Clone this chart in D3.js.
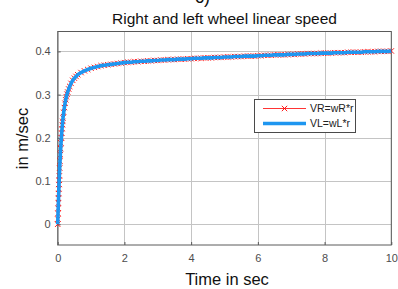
<!DOCTYPE html>
<html>
<head>
<meta charset="utf-8">
<script src="https://cdn.jsdelivr.net/npm/d3@7"></script>
<style>
  html, body { margin: 0; padding: 0; background: #fff; }
  svg { display: block; font-family: Arial, "Liberation Sans", Helvetica, sans-serif; }
</style>
</head>
<body>
<div id="chart"></div>
<script>
// ---- data ----
const time = [
  0, 0.005, 0.01, 0.015, 0.02, 0.025, 0.03, 0.035, 0.04, 0.045,
  0.05, 0.06, 0.07, 0.08, 0.09, 0.10, 0.11, 0.12, 0.13, 0.14,
  0.15, 0.16, 0.18, 0.20, 0.22, 0.24, 0.26, 0.28, 0.30, 0.33,
  0.36, 0.40, 0.45, 0.50, 0.55, 0.60, 0.70, 0.80, 0.90, 1.0,
  1.1, 1.2, 1.3, 1.4, 1.5, 1.6, 1.7, 1.8, 1.9, 2.0,
  2.1, 2.2, 2.3, 2.4, 2.5, 2.6, 2.7, 2.8, 2.9, 3.0,
  3.1, 3.2, 3.3, 3.4, 3.5, 3.6, 3.7, 3.8, 3.9, 4.0,
  4.1, 4.2, 4.3, 4.4, 4.5, 4.6, 4.7, 4.8, 4.9, 5.0,
  5.1, 5.2, 5.3, 5.4, 5.5, 5.6, 5.7, 5.8, 5.9, 6.0,
  6.1, 6.2, 6.3, 6.4, 6.5, 6.6, 6.7, 6.8, 6.9, 7.0,
  7.1, 7.2, 7.3, 7.4, 7.5, 7.6, 7.7, 7.8, 7.9, 8.0,
  8.1, 8.2, 8.3, 8.4, 8.5, 8.6, 8.7, 8.8, 8.9, 9.0,
  9.1, 9.2, 9.3, 9.4, 9.5, 9.6, 9.7, 9.8, 9.9, 10.0
];
const speedR = [
  0, 0.012, 0.025, 0.037, 0.049, 0.060, 0.071, 0.082, 0.092, 0.102,
  0.112, 0.130, 0.146, 0.161, 0.175, 0.188, 0.200, 0.211, 0.221, 0.230,
  0.238, 0.246, 0.259, 0.270, 0.280, 0.288, 0.295, 0.301, 0.306, 0.313,
  0.319, 0.326, 0.333, 0.338, 0.342, 0.346, 0.351, 0.355, 0.358, 0.361,
  0.363, 0.365, 0.367, 0.368, 0.369, 0.370, 0.371, 0.372, 0.373, 0.374,
  0.375, 0.375, 0.376, 0.376, 0.377, 0.377, 0.378, 0.378, 0.379, 0.379,
  0.380, 0.380, 0.381, 0.381, 0.381, 0.382, 0.382, 0.382, 0.383, 0.383,
  0.384, 0.384, 0.384, 0.385, 0.385, 0.385, 0.386, 0.386, 0.386, 0.387,
  0.387, 0.387, 0.388, 0.388, 0.388, 0.389, 0.389, 0.389, 0.389, 0.390,
  0.390, 0.391, 0.391, 0.391, 0.392, 0.392, 0.392, 0.392, 0.393, 0.393,
  0.393, 0.394, 0.394, 0.394, 0.395, 0.395, 0.395, 0.395, 0.396, 0.396,
  0.396, 0.396, 0.397, 0.397, 0.397, 0.397, 0.398, 0.398, 0.398, 0.398,
  0.398, 0.399, 0.399, 0.399, 0.399, 0.400, 0.400, 0.400, 0.400, 0.401
];
const speedL = [...speedR]; // VL coincides with VR in the picture
const xTicks = [0, 2, 4, 6, 8, 10];
const yTicks = [0, 0.1, 0.2, 0.3, 0.4];
const seriesNames = ["VR=wR*r", "VL=wL*r"];
const titleText = "Right and left wheel linear speed";
const xLabel = "Time in sec";
const yLabel = "in m/sec";
const panelLabel = "c)";

// ---- layout ----
const W = 398, H = 289;
const plot = { left: 57.7, right: 391.3, top: 31.5, bottom: 245 };
const red = "#ff0000", blue = "#1e96f0";

const svg = d3.select("#chart").append("svg")
  .attr("width", W).attr("height", H);
svg.append("rect").attr("width", W).attr("height", H).attr("fill", "#fff");

const x = d3.scaleLinear().domain([0, 10]).range([plot.left, plot.right]);
const y = d3.scaleLinear().domain([-0.048, 0.446]).range([plot.bottom, plot.top]);

// grid
const grid = svg.append("g");
grid.selectAll(".gx").data(xTicks).join("line")
  .attr("x1", d => Math.round(x(d)) + 0.5).attr("x2", d => Math.round(x(d)) + 0.5)
  .attr("y1", plot.top).attr("y2", plot.bottom)
  .attr("stroke", "#c4c4c4").attr("stroke-width", 1);
grid.selectAll(".gy").data(yTicks).join("line")
  .attr("y1", d => Math.round(y(d)) + 0.5).attr("y2", d => Math.round(y(d)) + 0.5)
  .attr("x1", plot.left).attr("x2", plot.right)
  .attr("stroke", "#c4c4c4").attr("stroke-width", 1);

// axes (ticks inward)
const axisColor = "#5a5a5a";
const xAxis = svg.append("g").attr("transform", `translate(0,${plot.bottom})`)
  .call(d3.axisBottom(x).tickValues(xTicks).tickSize(-3).tickPadding(9).tickFormat(d3.format("d")));
const yAxis = svg.append("g").attr("transform", `translate(${plot.left},0)`)
  .call(d3.axisLeft(y).tickValues(yTicks).tickSize(-3).tickPadding(7).tickFormat(d => d === 0 ? "0" : d3.format(".1f")(d)));
[xAxis, yAxis].forEach(g => {
  g.select(".domain").remove();
  g.selectAll("line").attr("stroke", axisColor);
  g.selectAll("text").attr("fill", "#4d4d4d").attr("font-size", 11)
    .attr("font-family", "Arial, 'Liberation Sans', sans-serif");
});

// box
svg.append("rect")
  .attr("x", plot.left).attr("y", plot.top)
  .attr("width", plot.right - plot.left).attr("height", plot.bottom - plot.top)
  .attr("fill", "none").attr("stroke", axisColor).attr("stroke-width", 1);

// series
const dataR = time.map((t, i) => [t, speedR[i]]);
const dataL = time.map((t, i) => [t, speedL[i]]);
const line = d3.line().x(d => x(d[0])).y(d => y(d[1]));

svg.append("path").datum(dataR).attr("d", line)
  .attr("fill", "none").attr("stroke", red).attr("stroke-width", 0.8);
const ms = 2.7;
const markerPath = `M${-ms},${-ms}L${ms},${ms}M${-ms},${ms}L${ms},${-ms}`;
svg.append("g").selectAll("path").data(dataR).join("path")
  .attr("transform", d => `translate(${x(d[0])},${y(d[1])})`)
  .attr("d", markerPath)
  .attr("stroke", red).attr("stroke-width", 0.9).attr("fill", "none");

svg.append("path").datum(dataL).attr("d", line)
  .attr("fill", "none").attr("stroke", blue).attr("stroke-width", 3.6)
  .attr("stroke-linejoin", "round");

// legend
const lg = svg.append("g");
lg.append("rect").attr("x", 254.5).attr("y", 99.5).attr("width", 101).attr("height", 33)
  .attr("fill", "#fff").attr("stroke", "#4a4a4a").attr("stroke-width", 1);
lg.append("line").attr("x1", 263).attr("x2", 306).attr("y1", 108.5).attr("y2", 108.5)
  .attr("stroke", red).attr("stroke-width", 0.8);
lg.append("path").attr("transform", "translate(284.5,108.5)").attr("d", markerPath)
  .attr("stroke", red).attr("stroke-width", 0.9);
lg.append("line").attr("x1", 263).attr("x2", 306).attr("y1", 123.5).attr("y2", 123.5)
  .attr("stroke", blue).attr("stroke-width", 3.6);
lg.selectAll("text").data(seriesNames).join("text")
  .attr("x", 310).attr("y", (d, i) => 112.3 + i * 15)
  .attr("font-size", 10.5).attr("fill", "#222").text(d => d);

// texts
svg.append("text").attr("x", 195).attr("y", 2.5).attr("font-size", 18)
  .attr("fill", "#111").text(panelLabel);
svg.append("text").attr("x", 224.5).attr("y", 23.5).attr("text-anchor", "middle")
  .attr("font-size", 15.5).attr("fill", "#111").text(titleText);
svg.append("text").attr("x", 227).attr("y", 285).attr("text-anchor", "middle")
  .attr("font-size", 16.5).attr("fill", "#111").text(xLabel);
svg.append("text").attr("transform", "translate(28,138.5) rotate(-90)")
  .attr("text-anchor", "middle").attr("font-size", 16.5).attr("fill", "#111").text(yLabel);
</script>
</body>
</html>
